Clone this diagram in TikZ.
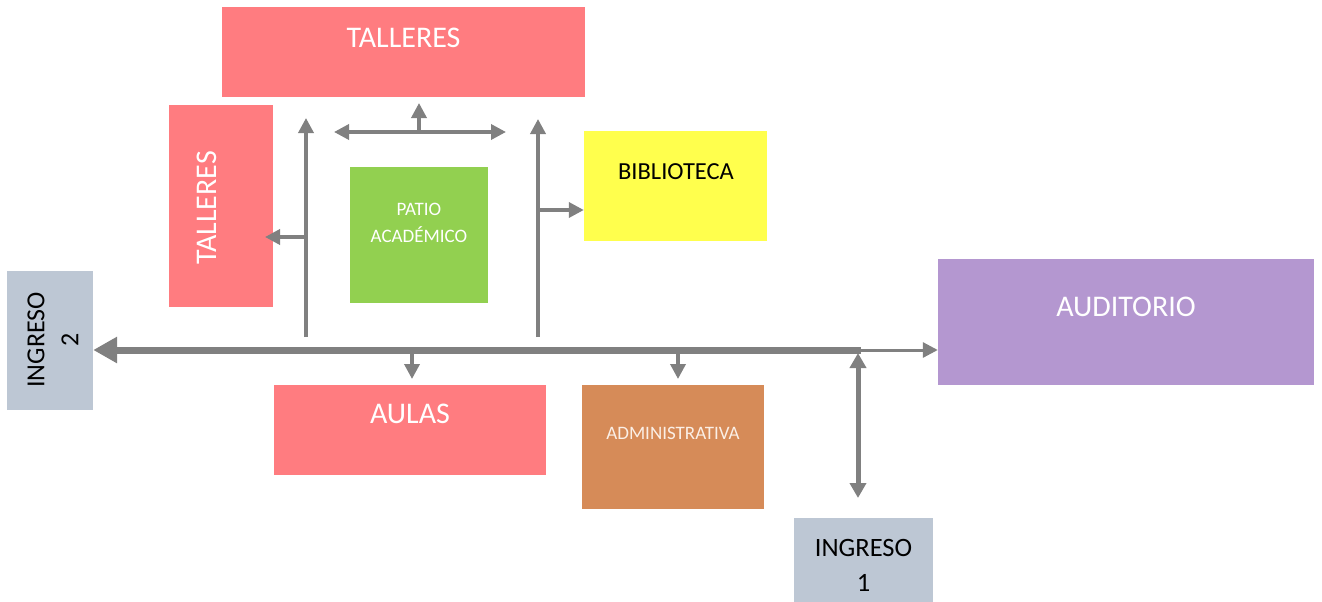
\documentclass[tikz,border=0pt]{standalone}
\usepackage{fontspec}
\setmainfont{Carlito}
\usetikzlibrary{arrows.meta}
\definecolor{salmon}{HTML}{FF7C80}
\definecolor{patio}{HTML}{92D050}
\definecolor{biblio}{HTML}{FFFF4D}
\definecolor{audit}{HTML}{B497D0}
\definecolor{admin}{HTML}{D68B58}
\definecolor{ingreso}{HTML}{BDC7D4}
\definecolor{arrowgray}{HTML}{808080}
\definecolor{offwhite}{HTML}{FBEFE6}
\begin{document}
\begin{tikzpicture}[x=1pt,y=-1pt,
  area/.style={rectangle, draw=none, inner sep=0pt},
  txt/.style={inner sep=0pt, align=center},
  big/.style={txt, text=white, font=\fontsize{30}{34}\selectfont},
  small/.style={txt, text=white, font=\fontsize{19}{27}\selectfont},
  dark/.style={txt, text=black, font=\fontsize{26.5}{35}\selectfont},
  thin/.style={draw=arrowgray, line width=3.5pt, -{Triangle[length=15pt,width=15pt]}},
  thinboth/.style={draw=arrowgray, line width=3.5pt, {Triangle[length=15pt,width=15pt]}-{Triangle[length=15pt,width=15pt]}},
  main/.style={draw=arrowgray, line width=7pt, -{Triangle[length=24pt,width=25pt]}},
  mid/.style={draw=arrowgray, line width=5pt, {Triangle[length=15pt,width=16pt]}-{Triangle[length=15pt,width=16pt]}}
]
\useasboundingbox (0,0) rectangle (1322,602);

% areas
\node[area, fill=salmon, minimum width=363pt, minimum height=90pt] (tallT) at (403.5,52) {};
\node[big] (tallTtxt) at (403.5,38) {TALLERES};
\node[area, fill=salmon, minimum width=104pt, minimum height=202pt] (tallL) at (221,206) {};
\node[big, rotate=90] (tallLtxt) at (207,208) {TALLERES};
\node[area, fill=patio, minimum width=138pt, minimum height=136pt] (patio) at (419,235) {};
\node[small] (patiotxt) at (419,222.5) {PATIO\\ACADÉMICO};
\node[area, fill=biblio, minimum width=183pt, minimum height=110pt] (bib) at (675.5,186) {};
\node[txt, font=\fontsize{24.5}{28}\selectfont] (bibtxt) at (676,172) {BIBLIOTECA};
\node[area, fill=ingreso, minimum width=86pt, minimum height=139pt] (ing2) at (50,340.5) {};
\node[dark, font=\fontsize{26}{34}\selectfont, rotate=90] (ing2txt) at (53,340) {INGRESO\\2};
\node[area, fill=audit, minimum width=376pt, minimum height=126pt] (aud) at (1126,322) {};
\node[big] (audtxt) at (1126,307) {AUDITORIO};
\node[area, fill=salmon, minimum width=272pt, minimum height=90pt] (aul) at (410,430) {};
\node[big] (aultxt) at (410,414) {AULAS};
\node[area, fill=admin, minimum width=182pt, minimum height=124pt] (adm) at (673,447) {};
\node[small, text=offwhite] (admtxt) at (673,433) {ADMINISTRATIVA};
\node[area, fill=ingreso, minimum width=139pt, minimum height=90pt] (ing1) at (863.5,563) {};
\node[dark] (ing1txt) at (863.5,565) {INGRESO\\1};

% junctions and free ends
\coordinate (jn) at (861,350);
\coordinate (d1s) at (412,350); \coordinate (d1e) at (412,379);
\coordinate (d2s) at (678,350); \coordinate (d2e) at (678,379);
\coordinate (lvs) at (306,337); \coordinate (lve) at (306,118);
\coordinate (lb) at (306,237); \coordinate (lbe) at (265,237);
\coordinate (rvs) at (538,337); \coordinate (rve) at (538,119);
\coordinate (rb) at (538,210);
\coordinate (hl) at (334,132); \coordinate (hr) at (506,132);
\coordinate (hu) at (419,132); \coordinate (hue) at (419,103);
\coordinate (vt) at (858,353); \coordinate (vb) at (858,498);

% connectors
\draw[main] (jn) -- (ing2.east |- jn);
\draw[thin, line width=3pt] (jn) -- (aud.west |- jn);
\draw[mid] (vt) -- (vb);
\draw[thin] (d1s) -- (d1e);
\draw[thin] (d2s) -- (d2e);
\draw[thin] (lvs) -- (lve);
\draw[thin] (lb) -- (lbe);
\draw[thin] (rvs) -- (rve);
\draw[thin] (rb) -- (bib.west |- rb);
\draw[thinboth] (hl) -- (hr);
\draw[thin] (hu) -- (hue);
\end{tikzpicture}
\end{document}
